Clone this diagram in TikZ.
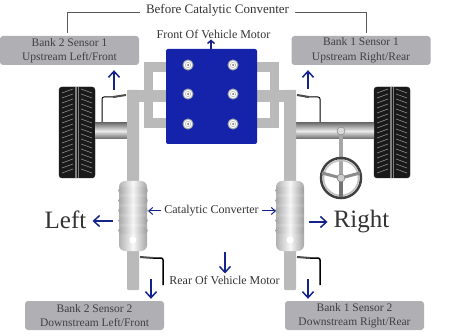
\documentclass[tikz,border=0pt]{standalone}
\usepackage{fontspec}
\setmainfont{Liberation Serif}
\usetikzlibrary{arrows.meta}
\definecolor{engineblue}{RGB}{20,35,170}
\definecolor{arrowblue}{RGB}{20,35,140}
\definecolor{boxgray}{RGB}{176,176,180}
\definecolor{pipegray}{RGB}{186,186,186}
\tikzset{
    sensorbox/.style={fill=boxgray, rounded corners=3pt, minimum width=139pt, minimum height=29pt,
        inner sep=0pt, align=center, font=\fontsize{11.5}{14.5}\selectfont, text=black!75},
    caption/.style={inner sep=1pt, font=\fontsize{12}{14}\selectfont, text=black!80},
    bigcaption/.style={inner sep=1pt, font=\fontsize{25}{28}\selectfont, text=black!80},
    leader/.style={black!65, line width=0.8pt, shorten >=3pt},
    bluearrow/.style={arrowblue, line width=1.5pt, -{Straight Barb[length=6pt,width=11pt]}}
}
\begin{document}
\begin{tikzpicture}[x=1pt,y=-1pt]
    \useasboundingbox (0,0) rectangle (454,336);

    % tires
    \foreach \tx in {59,374} {
        \filldraw[black!90, rounded corners=3pt] (\tx,87) rectangle (\tx+36,178);
        \foreach \ty in {89,94,...,172} {
            \draw[black!45, line width=0.6pt] (\tx+3,\ty+4) -- (\tx+14,\ty);
            \draw[black!45, line width=0.6pt] (\tx+22,\ty) -- (\tx+33,\ty+4);
        }
        \fill[black!50] (\tx+16,87) rectangle (\tx+17.5,178);
        \fill[black!50] (\tx+18.5,87) rectangle (\tx+20,178);
    }

    % axles
    \shade[top color=black!55, bottom color=black!60, middle color=black!8] (95,123) rectangle (127,139);
    \shade[top color=black!55, bottom color=black!60, middle color=black!8] (296,123) rectangle (374,139);

    % steering
    \fill[black!35] (339,133) rectangle (343,178);
    \filldraw[fill=black!15, draw=black!55] (341,131) circle (4pt);
    \draw[black!75, line width=2.5pt] (341,178) circle (20pt);
    \draw[black!25, line width=1.5pt] (341,178) circle (17.5pt);
    \draw[black!45, line width=3pt] (322,173) -- (341,178) -- (360,173);
    \draw[black!55, line width=4pt] (341,178) -- (341,197);
    \filldraw[fill=black!20, draw=black!60] (341,178) circle (4pt);

    % exhaust pipes and manifolds
    \fill[pipegray, rounded corners=1pt] (127,90) rectangle (139,290);
    \fill[pipegray, rounded corners=1pt] (284,90) rectangle (296,290);
    \fill[pipegray] (127,90) rectangle (166,102);
    \fill[pipegray] (257,90) rectangle (296,102);
    \fill[pipegray] (144,62) rectangle (153,128);
    \fill[pipegray] (270,62) rectangle (279,128);
    \fill[pipegray] (144,62) rectangle (166,72);
    \fill[pipegray] (144,118) rectangle (166,128);
    \fill[pipegray] (257,62) rectangle (279,72);
    \fill[pipegray] (257,118) rectangle (279,128);

    % engine block
    \fill[engineblue, rounded corners=2pt] (166,49) rectangle (257,144);
    \foreach \bx in {188,233} {
        \foreach \by in {65,94,124} {
            \filldraw[fill=white, draw=black!35, line width=1pt] (\bx,\by) circle (5pt);
            \draw[black!30, line width=0.5pt] (\bx,\by) circle (2.7pt);
            \fill[black!60] (\bx,\by) circle (1pt);
        }
    }

    % catalytic converters
    \foreach \cx in {133,290} {
        \shade[left color=black!30, right color=black!35, middle color=black!3, rounded corners=6pt]
            (\cx-14,181) rectangle (\cx+14,251);
        \foreach \ry in {187,197,207,217,227} {
            \shade[left color=black!35, right color=black!40, middle color=black!4, rounded corners=3pt]
                (\cx-14.5,\ry) rectangle (\cx+14.5,\ry+7);
        }
        \fill[white] (\cx,240) circle (3.5pt);
    }
    \coordinate (catL) at (148,211);
    \coordinate (catR) at (276,211);

    % oxygen sensors
    \draw[black, line width=1pt, rounded corners=2pt] (102,122) -- (102,97) -- (116,97);
    \draw[black!70, line width=2pt] (113,97) -- (126,95);
    \draw[black, line width=1pt, rounded corners=2pt] (320,122) -- (320,97) -- (305,97);
    \draw[black!70, line width=2pt] (309,97) -- (297,95);
    \draw[black, line width=1.5pt, rounded corners=2pt] (163,285) -- (163,258) -- (150,258);
    \draw[black!70, line width=2pt] (153,258) -- (140,257);
    \draw[black, line width=1.5pt, rounded corners=2pt] (320,285) -- (320,258) -- (306,258);
    \draw[black!70, line width=2pt] (310,258) -- (297,257);

    % labels
    \node[sensorbox] (bank2up) at (69.5,50.5) {Bank 2 Sensor 1\\Upstream Left/Front};
    \node[sensorbox] (bank1up) at (361,50.5) {Bank 1 Sensor 1\\Upstream Right/Rear};
    \node[sensorbox] (bank2down) at (94.5,315.5) {Bank 2 Sensor 2\\Downstream Left/Front};
    \node[sensorbox] (bank1down) at (354.5,315.5) {Bank 1 Sensor 2\\Downstream Right/Rear};
    \node[caption, font=\fontsize{13}{15}\selectfont] (before) at (217.5,10) {Before Catalytic Conventer};
    \node[caption] (front) at (213.5,34) {Front Of Vehicle Motor};
    \node[caption] (catlabel) at (211.5,211) {Catalytic Converter};
    \node[caption] (rear) at (224.5,280) {Rear Of Vehicle Motor};
    \node[bigcaption] (leftlabel) at (65.5,220) {Left};
    \node[bigcaption] (rightlabel) at (361.5,222) {Right};

    % leaders
    \coordinate (leadL) at ([xshift=-2.5pt]bank2up.north);
    \coordinate (leadR) at ([xshift=5pt]bank1up.north);
    \draw[leader] ([xshift=-5pt,yshift=-2pt]before.west) -| (leadL);
    \draw[leader] ([xshift=5pt,yshift=-2pt]before.east) -| (leadR);

    % arrows
    \coordinate (upL) at (114,90);
    \coordinate (upR) at (308,89);
    \coordinate (downL) at (151,279);
    \coordinate (downR) at (308,279);
    \coordinate (rearTop) at (225,252);
    \coordinate (leftStart) at (113,221);
    \coordinate (rightStart) at (309,222);
    \coordinate (frontTop) at (211,49);
    \draw[bluearrow, shorten >=5pt] (upL) -- (upL |- bank2up.south);
    \draw[bluearrow, shorten >=5pt] (upR) -- (upR |- bank1up.south);
    \draw[bluearrow, shorten >=2pt] (downL) -- (downL |- bank2down.north);
    \draw[bluearrow, shorten >=2pt] (downR) -- (downR |- bank1down.north);
    \draw[bluearrow, shorten >=1pt] (rearTop) -- (rearTop |- rear.north);
    \draw[bluearrow, shorten >=5pt] (leftStart) -- (leftlabel.east |- leftStart);
    \draw[bluearrow, shorten >=5pt] (rightStart) -- (rightlabel.west |- rightStart);
    \draw[bluearrow, line width=1pt, -{Straight Barb[length=4pt,width=7pt]}, shorten <=2pt] (catlabel.west) -- (catL);
    \draw[bluearrow, line width=1pt, -{Straight Barb[length=4pt,width=7pt]}, shorten <=2pt] (catlabel.east) -- (catR);
    \draw[bluearrow, -{Straight Barb[length=3pt,width=7pt]}] (frontTop) -- (frontTop |- front.south);
\end{tikzpicture}
\end{document}
